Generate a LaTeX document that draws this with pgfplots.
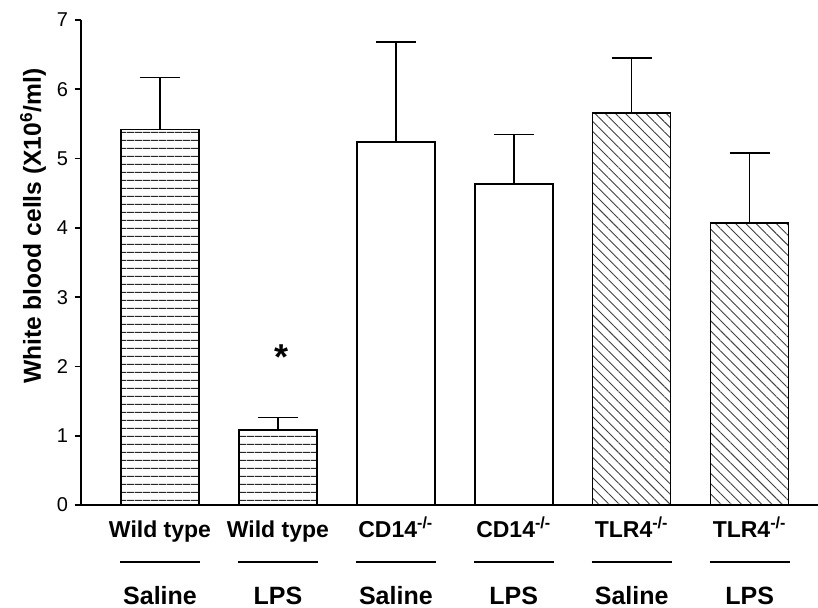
\documentclass[border=0pt]{standalone}
\usepackage{fontspec}
\setmainfont{Liberation Sans}
\usepackage{pgfplots}
\pgfplotsset{compat=1.18}
\usetikzlibrary{patterns.meta}
\pgfplotstableread{
x y e
0 5.42 0.75
1 1.08 0.18
}\wt
\pgfplotstableread{
x y e
2 5.24 1.44
3 4.63 0.72
}\cd
\pgfplotstableread{
x y e
4 5.66 0.79
5 4.07 1.01
}\tlr
\newcommand\lab[2]{\vbox{\offinterlineskip
 \hbox to 60pt{\hss\vrule height 9pt depth 3pt width 0pt\smash{\fontsize{11.5}{12}\selectfont\bfseries #1}\hss}%
 \kern9pt
 \hbox to 60pt{\hss\vrule height 1pt depth 0pt width 40pt\hss}%
 \kern10.75pt
 \hbox to 60pt{\hss\vrule height 10pt depth 0pt width 0pt\smash{\fontsize{12.5}{13}\selectfont\bfseries #2}\hss}}}
\begin{document}
\begin{tikzpicture}
\begin{axis}[
 at={(0,0)}, anchor=south west,
 scale only axis, width=368.5pt, height=242.5pt,
 xmin=-0.67, xmax=5.58, ymin=0, ymax=7,
 axis lines=left, axis line style={line width=0.8pt, -},
 ytick={0,...,7}, ytick style={black, line width=0.8pt}, tick align=outside, major tick length=3pt,
 xtick={0,...,5}, xtick style={draw=none},
 xticklabels={
  {\lab{Wild type}{Saline}},
  {\lab{Wild type}{LPS}},
  {\lab{CD14\textsuperscript{-/-}}{Saline}},
  {\lab{CD14\textsuperscript{-/-}}{LPS}},
  {\lab{TLR4\textsuperscript{-/-}}{Saline}},
  {\lab{TLR4\textsuperscript{-/-}}{LPS}}},
 xticklabel style={anchor=north, inner sep=0pt, yshift=-4pt},
 yticklabel style={font=\fontsize{10}{12}\selectfont},
 /pgf/number format/assume math mode=true,
 ylabel={White blood cells (X10\textsuperscript{6}/ml)},
 ylabel style={font=\bfseries\fontsize{12.3}{14}\selectfont, at={(axis description cs:-0.065,0.575)}, anchor=center},
 ybar, bar width=39pt, bar shift=0pt,
 clip=false,
]
\addplot[draw=black, line width=0.8pt, pattern={Lines[angle=0,distance=3.85pt,line width=0.5pt]}, pattern color=black!85,
 error bars/.cd, y dir=plus, y explicit, error mark=|, error mark options={line width=0.8pt, mark size=10pt, black}, error bar style={line width=0.8pt, black}]
 table[x=x, y=y, y error=e] {\wt};
\addplot[draw=black, line width=0.8pt, fill=white,
 error bars/.cd, y dir=plus, y explicit, error mark=|, error mark options={line width=0.8pt, mark size=10pt, black}, error bar style={line width=0.8pt, black}]
 table[x=x, y=y, y error=e] {\cd};
\addplot[draw=black, line width=0.8pt, pattern={Lines[angle=-45,distance=3.6pt,line width=0.45pt]}, pattern color=black!75,
 error bars/.cd, y dir=plus, y explicit, error mark=|, error mark options={line width=0.8pt, mark size=10pt, black}, error bar style={line width=0.8pt, black}]
 table[x=x, y=y, y error=e] {\tlr};
\node[font=\bfseries\fontsize{18}{18}\selectfont, yshift=-2.5pt] at (axis cs:1.03,2.2) {*};
\end{axis}
\pgfresetboundingbox
\path[use as bounding box] (-40.5pt,-51.5pt) rectangle (368.5pt,252.5pt);
\end{tikzpicture}
\end{document}
